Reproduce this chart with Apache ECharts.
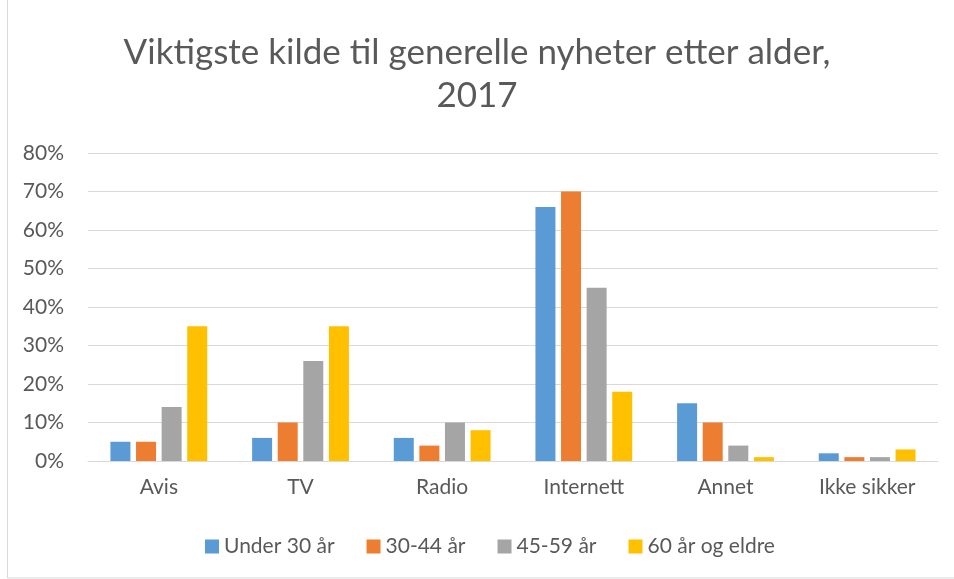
<!DOCTYPE html>
<html>
<head>
<meta charset="utf-8">
<script src="https://cdn.jsdelivr.net/npm/echarts@6/dist/echarts.min.js"></script>
<style>
html,body{margin:0;padding:0;background:#fff;}
#chart{width:954px;height:579px;}
</style>
</head>
<body>
<div id="chart"></div>
<script>
var categories = ['Avis', 'TV', 'Radio', 'Internett', 'Annet', 'Ikke sikker'];
var under30 = [5, 6, 6, 66, 15, 2];
var age30_44 = [5, 10, 4, 70, 10, 1];
var age45_59 = [14, 26, 10, 45, 4, 1];
var age60plus = [35, 35, 8, 18, 1, 3];
var seriesNames = ['Under 30 år', '30-44 år', '45-59 år', '60 år og eldre'];
var colors = ['#5b9bd5', '#ed7d31', '#a5a5a5', '#ffc000'];

var myChart = echarts.init(document.getElementById('chart'));
var font = 'Lato, "Open Sans", sans-serif';

function bar(name, data, color) {
    return {
        name: name,
        type: 'bar',
        data: data,
        barWidth: 20,
        barGap: '28%',
        itemStyle: { color: color },
        emphasis: { disabled: true }
    };
}

var option = {
    animation: false,
    textStyle: { fontFamily: font },
    title: {
        text: 'Viktigste kilde til generelle nyheter etter alder,\n2017',
        left: 'center',
        top: 26,
        textStyle: {
            color: '#595959',
            fontSize: 35,
            fontWeight: 'normal',
            fontFamily: font,
            lineHeight: 43
        }
    },
    legend: {
        bottom: 17,
        left: 200,
        itemWidth: 14,
        itemHeight: 14,
        itemGap: 32,
        icon: 'rect',
        textStyle: { color: '#595959', fontSize: 21, fontFamily: font }
    },
    grid: { left: 88, right: 16, top: 153, bottom: 118, containLabel: false },
    xAxis: {
        type: 'category',
        data: categories,
        axisTick: { show: false },
        axisLine: { lineStyle: { color: '#d9d9d9', width: 1 } },
        axisLabel: { color: '#595959', fontSize: 21, margin: 16 }
    },
    yAxis: {
        type: 'value',
        min: 0,
        max: 80,
        interval: 10,
        axisLabel: { color: '#595959', fontSize: 21, formatter: '{value}%', margin: 24 },
        splitLine: { lineStyle: { color: '#d9d9d9', width: 1 } },
        axisLine: { show: false },
        axisTick: { show: false }
    },
    graphic: [{
        type: 'rect',
        shape: { x: 7.5, y: -5, width: 960, height: 583 },
        style: { fill: 'none', stroke: '#d9d9d9', lineWidth: 1 },
        silent: true
    }],
    series: [
        bar(seriesNames[0], under30, colors[0]),
        bar(seriesNames[1], age30_44, colors[1]),
        bar(seriesNames[2], age45_59, colors[2]),
        bar(seriesNames[3], age60plus, colors[3])
    ]
};
myChart.setOption(option);
</script>
</body>
</html>
